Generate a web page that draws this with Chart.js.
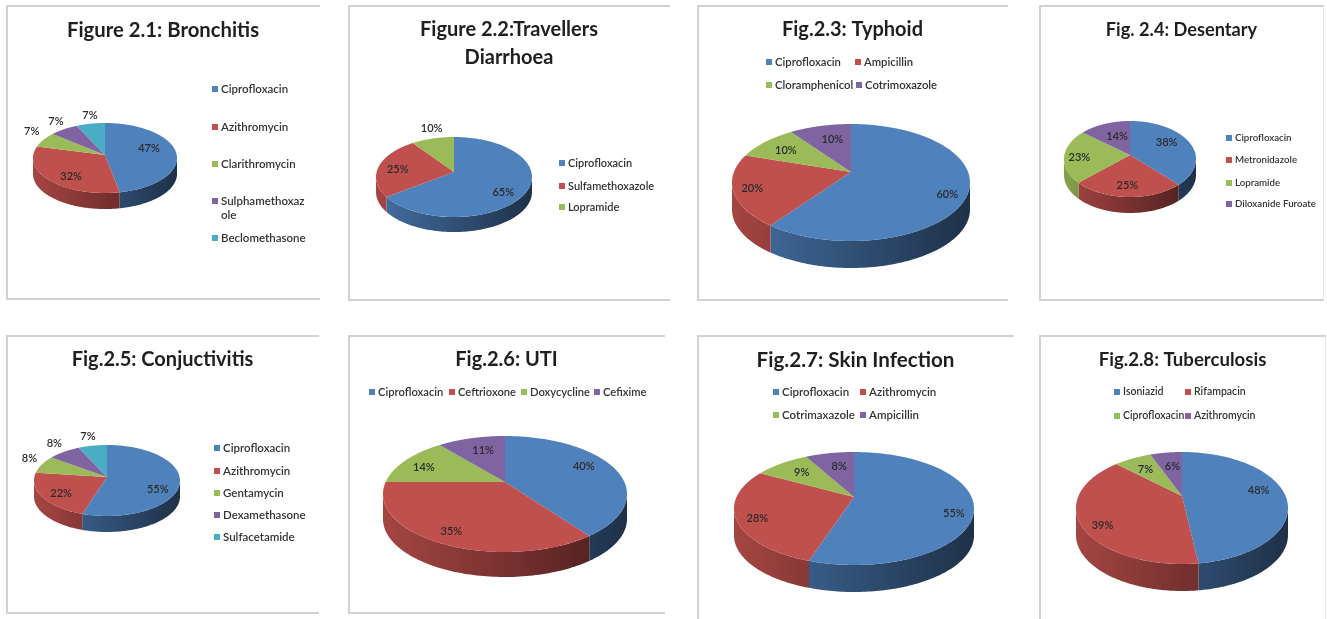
<!DOCTYPE html>
<html>
<head>
<meta charset="utf-8">
<title>Antibiotic use by condition</title>
<script src="https://cdn.jsdelivr.net/npm/chart.js@4/dist/chart.umd.min.js"></script>
<style>
  html, body { margin: 0; padding: 0; background: #fff; width: 1327px; height: 619px; overflow: hidden; }
  .panel { position: absolute; box-sizing: border-box; background: #fff;
           border-top: 2px solid #d2d2d2; border-left: 2px solid #d2d2d2; }
  .panel.closed { border-bottom: 2px solid #d2d2d2; }
  .panel.ruled { border-right: 1px solid #e6e6e6; }
  canvas { position: absolute; left: -2px; top: -2px; }
</style>
</head>
<body>
<script>
// Series for each condition: share of prescriptions, in percent.
const bronchitisDrugs = ['Ciprofloxacin', 'Azithromycin', 'Clarithromycin', ['Sulphamethoxaz', 'ole'], 'Beclomethasone'];
const bronchitisShare = [47, 32, 7, 7, 7];
const diarrhoeaDrugs = ['Ciprofloxacin', 'Sulfamethoxazole', 'Lopramide'];
const diarrhoeaShare = [65, 25, 10];
const typhoidDrugs = ['Ciprofloxacin', 'Ampicillin', 'Cloramphenicol', 'Cotrimoxazole'];
const typhoidShare = [60, 20, 10, 10];
const desentaryDrugs = ['Ciprofloxacin', 'Metronidazole', 'Lopramide', 'Diloxanide Furoate'];
const desentaryShare = [38, 25, 23, 14];
const conjunctivitisDrugs = ['Ciprofloxacin', 'Azithromycin', 'Gentamycin', 'Dexamethasone', 'Sulfacetamide'];
const conjunctivitisShare = [55, 22, 8, 8, 7];
const utiDrugs = ['Ciprofloxacin', 'Ceftrioxone', 'Doxycycline', 'Cefixime'];
const utiShare = [40, 35, 14, 11];
const skinDrugs = ['Ciprofloxacin', 'Azithromycin', 'Cotrimaxazole', 'Ampicillin'];
const skinShare = [55, 28, 9, 8];
const tbDrugs = ['Isoniazid', 'Rifampacin', 'Ciprofloxacin', 'Azithromycin'];
const tbShare = [48, 39, 7, 6];

const sliceColours = [[79, 129, 189], [192, 80, 77], [155, 187, 89], [128, 100, 162], [75, 172, 198]];

// Page layout of each panel, its disc, value labels and key.
const panels = [
  { title: 'Figure 2.1: Bronchitis', titleSize: 20.3, drugs: bronchitisDrugs, share: bronchitisShare,
    box: [6, 5, 314, 295], closed: true,
    disc: { cx: 105, apex: 155, top: 123, bottom: 193, rx: 72, depth: 16 },
    reach: [0.62, 0.66, 1.2, 1.26, 1.28], nudge: [[0, -5], [2, 5], [0, -5], [2, -2], [3, 0]], keySize: 11.5,
    key: [[215, 89], [215, 127], [215, 164], [215, 201], [215, 238]] },
  { title: ['Figure 2.2:Travellers', 'Diarrhoea'], titleSize: 20, drugs: diarrhoeaDrugs, share: diarrhoeaShare,
    box: [348, 5, 322, 296], closed: true,
    disc: { cx: 454, apex: 172, top: 137, bottom: 217, rx: 78, depth: 15 },
    reach: [0.7, 0.72, 1.16], nudge: [[-1, 7], [-2, 2], [2, -5]], keySize: 11,
    key: [[562, 163], [562, 186], [562, 207]] },
  { title: 'Fig.2.3: Typhoid', titleSize: 20, drugs: typhoidDrugs, share: typhoidShare,
    box: [697, 5, 311, 296], closed: true,
    disc: { cx: 851, apex: 172, top: 124, bottom: 241, rx: 119, depth: 27 },
    reach: [0.85, 0.87, 0.68, 0.7], nudge: [[-3, 7], [3, 0], [-5, 0], [4, 1]], keySize: 11.3,
    key: [[769, 62], [858, 62], [769, 85], [859, 85]] },
  { title: 'Fig. 2.4: Desentary', titleSize: 18.2, drugs: desentaryDrugs, share: desentaryShare,
    box: [1039, 5, 285, 296], closed: true, ruled: true,
    disc: { cx: 1130, apex: 155, top: 121, bottom: 197, rx: 66, depth: 16 },
    reach: [0.58, 0.72, 0.77, 0.6], nudge: [[2, -5], [-1, 1], [0, 2], [3, 1]], keySize: 9.7,
    key: [[1229, 138], [1229, 160], [1229, 183], [1229, 204]] },
  { title: 'Fig.2.5: Conjuctivitis', titleSize: 20, drugs: conjunctivitisDrugs, share: conjunctivitisShare,
    box: [6, 335, 313, 279], closed: true,
    disc: { cx: 107, apex: 477, top: 445, bottom: 516, rx: 73, depth: 16 },
    reach: [0.7, 0.75, 1.15, 1.22, 1.28], nudge: [[0, 9], [2, 2], [-3, -4], [-1, -3], [-1, -1]], keySize: 11.5,
    key: [[217, 448], [217, 471], [217, 493], [217, 515], [217, 537]] },
  { title: 'Fig.2.6: UTI', titleSize: 20, drugs: utiDrugs, share: utiShare,
    box: [348, 335, 317, 279], closed: true,
    disc: { cx: 505, apex: 482, top: 436, bottom: 552, rx: 122, depth: 25 },
    reach: [0.64, 0.85, 0.73, 0.7], nudge: [[9, -5], [1, 0], [-7, 2], [3, 1]], keySize: 11.2,
    key: [[372, 392], [452, 392], [524, 392], [597, 392]] },
  { title: 'Fig.2.7: Skin Infection', titleSize: 20.6, drugs: skinDrugs, share: skinShare,
    box: [697, 335, 317, 284], closed: false,
    disc: { cx: 854, apex: 497, top: 452, bottom: 565, rx: 120, depth: 27 },
    reach: [0.83, 0.87, 0.62, 0.69], nudge: [[1, 9], [5, 3], [-5, -3], [3, 1]], keySize: 11.5,
    key: [[776, 392], [863, 392], [776, 415], [863, 415]] },
  { title: 'Fig.2.8: Tuberculosis', titleSize: 18.6, drugs: tbDrugs, share: tbShare,
    box: [1039, 335, 287, 284], closed: false, ruled: true,
    disc: { cx: 1182, apex: 496, top: 452, bottom: 564, rx: 106, depth: 27 },
    reach: [0.73, 0.85, 0.62, 0.68], nudge: [[2, -3], [6, 7], [-4, -2], [2, 2]], keySize: 10.5,
    key: [[1117, 392], [1188, 392], [1117, 416], [1188, 416]] }
];

// Perspective terms for a tilted disc, taken from its visible outline.
function discView(d, ox, oy) {
  const near = d.bottom - d.apex, far = d.apex - d.top;
  const k = (near - far) / (near + far);
  return { cx: d.cx - ox, cy: d.apex - oy, k, b: far * (1 + k),
           a: d.rx * Math.sqrt(1 - k * k), rx: d.rx, depth: d.depth };
}
function project(view, angle, reach) {
  const u = reach * Math.cos(angle), v = reach * Math.sin(angle), w = 1 - view.k * v;
  return [view.cx + view.a * u / w, view.cy + view.b * v / w];
}
function rgb(c, f) { return `rgb(${Math.round(c[0] * f)},${Math.round(c[1] * f)},${Math.round(c[2] * f)})`; }

// Paints the library's arc elements as a solid disc seen from above and in front.
const tiltedPie = {
  id: 'tiltedPie',
  beforeDatasetsDraw(chart, args, opts) {
    const { ctx } = chart, cfg = opts.panel;
    const view = discView(cfg.disc, cfg.box[0], cfg.box[1]);
    const arcs = chart.getDatasetMeta(0).data;
    const rim = Math.asin(view.k);

    arcs.forEach((arc, i) => {
      const lo = Math.max(arc.startAngle, rim), hi = Math.min(arc.endAngle, Math.PI - rim);
      if (hi <= lo) return;
      const steps = 90, pts = [];
      for (let s = 0; s <= steps; s++) pts.push(project(view, lo + (hi - lo) * s / steps, 1));
      const wall = ctx.createLinearGradient(view.cx - view.rx, 0, view.cx + view.rx, 0);
      wall.addColorStop(0, rgb(sliceColours[i], 0.86));
      wall.addColorStop(1, rgb(sliceColours[i], 0.38));
      ctx.beginPath();
      pts.forEach(p => ctx.lineTo(p[0], p[1]));
      pts.slice().reverse().forEach(p => ctx.lineTo(p[0], p[1] + view.depth));
      ctx.closePath();
      ctx.fillStyle = wall;
      ctx.fill();
    });

    arcs.forEach((arc, i) => {
      const steps = 120;
      ctx.beginPath();
      ctx.moveTo(view.cx, view.cy);
      for (let s = 0; s <= steps; s++) {
        const p = project(view, arc.startAngle + (arc.endAngle - arc.startAngle) * s / steps, 1);
        ctx.lineTo(p[0], p[1]);
      }
      ctx.closePath();
      ctx.fillStyle = rgb(sliceColours[i], 1);
      ctx.fill();
    });

    ctx.font = '600 11px Lato, sans-serif';
    ctx.fillStyle = '#2b2b2b';
    ctx.textAlign = 'center';
    ctx.textBaseline = 'middle';
    arcs.forEach((arc, i) => {
      const p = project(view, (arc.startAngle + arc.endAngle) / 2, cfg.reach[i]);
      ctx.fillText(cfg.share[i] + '%', p[0] + cfg.nudge[i][0], p[1] + cfg.nudge[i][1]);
    });
    return false;
  },
  afterDraw(chart, args, opts) {
    const { ctx } = chart, cfg = opts.panel;
    ctx.font = `600 ${cfg.keySize}px Lato, sans-serif`;
    ctx.textAlign = 'left';
    ctx.textBaseline = 'middle';
    cfg.drugs.forEach((name, i) => {
      const x = cfg.key[i][0] - cfg.box[0], y = cfg.key[i][1] - cfg.box[1];
      ctx.fillStyle = rgb(sliceColours[i], 1);
      ctx.fillRect(x - 3, y - 3, 6, 6);
      ctx.fillStyle = '#333333';
      [].concat(name).forEach((line, n) => ctx.fillText(line, x + 6, y + n * 14));
    });
  }
};

panels.forEach(cfg => {
  const holder = document.createElement('div');
  holder.className = 'panel' + (cfg.closed ? ' closed' : '') + (cfg.ruled ? ' ruled' : '');
  holder.style.cssText = `left:${cfg.box[0]}px;top:${cfg.box[1]}px;width:${cfg.box[2]}px;height:${cfg.box[3]}px`;
  const canvas = document.createElement('canvas');
  canvas.width = cfg.box[2];
  canvas.height = cfg.box[3];
  holder.appendChild(canvas);
  document.body.appendChild(holder);

  new Chart(canvas, {
    type: 'pie',
    data: {
      labels: cfg.drugs.map(d => [].concat(d).join('')),
      datasets: [{ data: cfg.share, backgroundColor: sliceColours.map(c => rgb(c, 1)), borderWidth: 0 }]
    },
    options: {
      responsive: false,
      animation: false,
      devicePixelRatio: 1,
      layout: { padding: 0 },
      plugins: {
        legend: { display: false },
        tooltip: { enabled: false },
        title: {
          display: true,
          text: cfg.title,
          color: '#1f1f1f',
          font: { family: 'Lato, sans-serif', weight: 'bold', size: cfg.titleSize, lineHeight: '28px' },
          padding: { top: 11, bottom: 0 }
        },
        tiltedPie: { panel: cfg }
      }
    },
    plugins: [tiltedPie]
  });
});
</script>
</body>
</html>
